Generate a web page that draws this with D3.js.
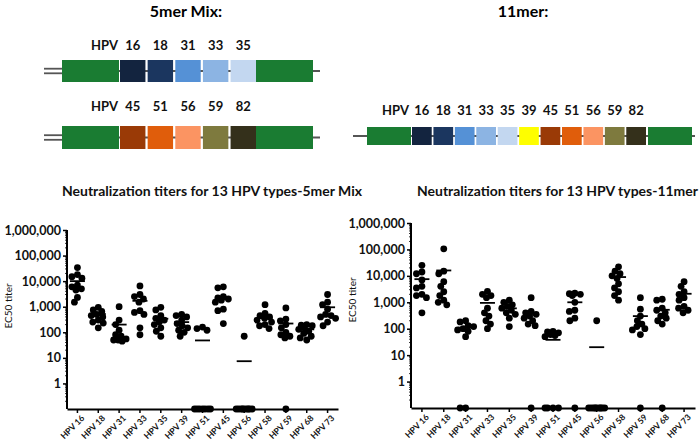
<!DOCTYPE html>
<html><head><meta charset="utf-8">
<script src="https://cdn.jsdelivr.net/npm/d3@7"></script>
<style>body{margin:0;background:#fff} svg{display:block;font-family:Lato,"Open Sans",sans-serif}</style>
</head><body><svg id="c" width="700" height="442"></svg>
<script>
// ---------- data ----------
const categories = ["HPV 16","HPV 18","HPV 31","HPV 33","HPV 35","HPV 39","HPV 51","HPV 45","HPV 56","HPV 58","HPV 59","HPV 68","HPV 73"];
const mix5Values = [
  [34000,18000,15000,13000,7000,6000,5000,4500,2300,1500],
  [950,750,650,500,450,400,300,250,230,150],
  [1000,300,200,120,80,70,55,50,50,45],
  [6500,3000,2500,2000,1500,700,600,500,150,80],
  [950,750,450,350,300,250,200,150,110,70],
  [500,450,400,300,220,180,150,120,100,70],
  [160,140,120,0,0,0,0,0,0,0],
  [6000,5500,2500,2200,2000,1800,1500,800,700,220],
  [70,0,0,0,0,0,0,0,0,0],
  [1200,550,450,400,350,300,250,200,180,140],
  [900,330,280,200,150,100,80,70,60,0],
  [200,190,180,150,130,110,90,70,60,50],
  [3000,1500,1200,800,500,450,400,350,250,180]
];
const mix5Means = [10000,520,200,1700,340,250,48,2000,7.4,360,220,130,950];
const mer11Values = [
  [25000,14000,12000,7000,4000,3500,2000,1800,1500,400],
  [105000,15000,12000,6000,4000,2500,1800,1200,1000,800],
  [200,180,130,120,100,90,80,50,0,0],
  [2600,2000,1800,1500,600,400,300,200,150,100],
  [1200,1000,800,700,600,500,400,350,250,120],
  [1500,450,400,350,300,250,200,150,130,0],
  [80,75,70,60,55,50,0,0,0,0],
  [2200,2100,2000,1800,1000,500,450,250,200,0],
  [200,0,0,0,0,0,0,0,0,0],
  [22000,15000,12000,10000,8000,5000,3500,2500,1800,1200],
  [1500,550,300,200,150,120,100,90,60,0],
  [1300,1200,600,500,400,300,250,200,150,0],
  [6000,4000,2500,2000,1500,1200,700,600,500,400]
];
const mer11Means = [7500,16000,110,950,590,370,38,1000,20,9000,300,520,2100];
const yTickValues = [1,10,100,1000,10000,100000,1000000];
const mix5Row1 = ["16","18","31","33","35"];
const mix5Row2 = ["45","51","56","59","82"];
const mer11Row = ["16","18","31","33","35","39","45","51","56","59","82"];
const typeColors = {"16":"#13243f","18":"#1b365f","31":"#5591d6","33":"#8cb4e3","35":"#c3d7f0",
  "39":"#fefe00","45":"#9a3a06","51":"#e05d0b","56":"#fb9462","59":"#7e7a3e","82":"#34301b"};
const carrierColor = "#1a7c32";

// ---------- drawing ----------
const svg = d3.select("#c");

svg.append("text").attr("x",186).attr("y",17).attr("text-anchor","middle")
  .attr("font-size",16).attr("font-weight","bold").text("5mer Mix:");
svg.append("text").attr("x",523).attr("y",17).attr("text-anchor","middle")
  .attr("font-size",16).attr("font-weight","bold").text("11mer:");

function construct(types, opt){
  const g = svg.append("g");
  const band = d3.scaleBand().domain(types).range([opt.x0, opt.x1]).paddingInner(0.08).paddingOuter(0);
  const ym = opt.y + opt.h/2;
  g.append("line").attr("x1",opt.lineStart).attr("x2",opt.lineEnd).attr("y1",ym).attr("y2",ym)
    .attr("stroke","#555").attr("stroke-width",2.2);
  if(opt.double){
    g.append("rect").attr("x",opt.lineStart-1).attr("y",ym-1.5).attr("width",opt.gL0-opt.lineStart+1).attr("height",3).attr("fill","#fff");
    [ym-2.3, ym+2.3].forEach(yy=>g.append("line").attr("x1",opt.lineStart).attr("x2",opt.gL0).attr("y1",yy).attr("y2",yy)
      .attr("stroke","#555").attr("stroke-width",1.8));
  }
  g.append("rect").attr("x",opt.gL0).attr("y",opt.y).attr("width",opt.gL1-opt.gL0).attr("height",opt.h).attr("fill",carrierColor);
  g.append("rect").attr("x",opt.gR0).attr("y",opt.y).attr("width",opt.gR1-opt.gR0).attr("height",opt.h).attr("fill",carrierColor);
  g.selectAll("rect.t").data(types).join("rect").attr("class","t")
    .attr("x",d=>band(d)).attr("y",opt.y).attr("width",band.bandwidth()).attr("height",opt.h)
    .attr("fill",d=>typeColors[d]);
  g.selectAll("text.t").data(types).join("text").attr("class","t")
    .attr("x",d=>band(d)+band.bandwidth()/2).attr("y",opt.labelY).attr("text-anchor","middle")
    .attr("font-size",13).attr("font-weight","bold").attr("fill","#111").text(d=>d);
  g.append("text").attr("x",opt.hpvX).attr("y",opt.labelY).attr("text-anchor","end")
    .attr("font-size",13).attr("font-weight","bold").attr("fill","#111").text("HPV");
}
construct(mix5Row1,{x0:120,x1:256,y:60,h:22,lineStart:44,lineEnd:320,double:true,gL0:62,gL1:119,gR0:256,gR1:313,labelY:50,hpvX:118});
construct(mix5Row2,{x0:120,x1:256,y:126,h:23,lineStart:44,lineEnd:320,double:true,gL0:62,gL1:119,gR0:256,gR1:313,labelY:111,hpvX:118});
construct(mer11Row,{x0:412,x1:646,y:127,h:18,lineStart:353,lineEnd:695,double:false,gL0:367,gL1:411,gR0:648,gR1:692,labelY:115,hpvX:409});

function scatter(values, means, opt){
  const g = svg.append("g");
  const x = d3.scaleBand().domain(categories).range([opt.x0, opt.x1]);
  const y = d3.scaleLog().domain([0.1, 1e6]).range([opt.yb, opt.yt]);
  const r = 3.4;
  svg.append("text").attr("x",opt.titleX).attr("y",196).attr("font-size",13).attr("font-weight","bold")
    .attr("fill","#111").attr("textLength",opt.titleLen).attr("lengthAdjust","spacingAndGlyphs").text(opt.title);
  svg.append("text").attr("transform",`translate(${opt.ylabX},${opt.ylabY}) rotate(-90)`).attr("text-anchor","middle")
    .attr("font-size",10).attr("fill","#111").text("EC50 titer");
  const minor = [];
  for(let e=-1;e<6;e++) for(let k=2;k<10;k++) minor.push(k*Math.pow(10,e));
  g.selectAll("line.minor").data(minor).join("line").attr("x1",opt.x0).attr("x2",opt.x0-2)
    .attr("y1",d=>y(d)).attr("y2",d=>y(d)).attr("stroke","#000").attr("stroke-width",0.8);
  const ya = g.append("g").attr("transform",`translate(${opt.x0},0)`)
    .call(d3.axisLeft(y).tickValues(yTickValues).tickFormat(d3.format(",")).tickSize(4).tickPadding(2));
  ya.select(".domain").attr("stroke-width",2).attr("d",`M0,${opt.yb}V${opt.yt}`);
  ya.selectAll(".tick line").attr("stroke-width",1.5);
  ya.selectAll("text").attr("font-size",12.5).attr("font-weight","bold").attr("font-family","Lato").attr("fill","#111");
  const xa = g.append("g").attr("transform",`translate(0,${opt.yb})`)
    .call(d3.axisBottom(x).tickSize(4).tickSizeOuter(0).tickPadding(4));
  xa.select(".domain").attr("stroke-width",2);
  xa.selectAll(".tick line").attr("stroke-width",1.5);
  xa.selectAll("text").attr("font-size",8.5).attr("font-weight","bold").attr("font-family","Lato").attr("fill","#111")
    .attr("text-anchor","end").attr("dx","-0.2em").attr("dy","0.5em").attr("transform","rotate(-45)");
  // compact beeswarm layout (overlap allowed, limited spread)
  const minD = 2*r*0.8, maxOff = 8;
  const pts = [];
  categories.forEach((c,i)=>{
    const cx = x(c) + x.bandwidth()/2;
    const placed = [];
    values[i].slice().sort((a,b)=>b-a).forEach(v=>{
      const py = v>0 ? y(v) : y(0.1);
      let chosen = null;
      for(let s=0;s<=maxOff && chosen===null;s+=0.5){
        for(const dx of (s===0?[0]:[-s,s])){
          if(placed.every(p=>Math.hypot(p.x-(cx+dx),p.y-py) >= minD)){chosen=dx;break;}
        }
      }
      if(chosen===null){
        let bestScore=-1;
        for(let dx=-maxOff;dx<=maxOff;dx+=0.5){
          const m = d3.min(placed,p=>Math.hypot(p.x-(cx+dx),p.y-py));
          if(m>bestScore){bestScore=m;chosen=dx;}
        }
      }
      placed.push({x:cx+chosen,y:py});
    });
    placed.forEach(p=>pts.push(p));
  });
  g.selectAll("circle").data(pts).join("circle").attr("cx",d=>d.x).attr("cy",d=>d.y).attr("r",r).attr("fill","#000");
  g.selectAll("line.mean").data(categories).join("line").attr("class","mean")
    .attr("x1",c=>x(c)+x.bandwidth()/2-7.5).attr("x2",c=>x(c)+x.bandwidth()/2+7.5)
    .attr("y1",(c,i)=>y(means[i])).attr("y2",(c,i)=>y(means[i])).attr("stroke","#000").attr("stroke-width",1.8);
}
scatter(mix5Values, mix5Means, {x0:67,x1:338,yb:409,yt:230,title:"Neutralization titers for 13 HPV types-5mer Mix",titleX:62,titleLen:300,ylabX:12,ylabY:306});
scatter(mer11Values, mer11Means, {x0:411,x1:695,yb:408,yt:223,title:"Neutralization titers for 13 HPV types-11mer",titleX:417,titleLen:281,ylabX:356,ylabY:300});
</script></body></html>
